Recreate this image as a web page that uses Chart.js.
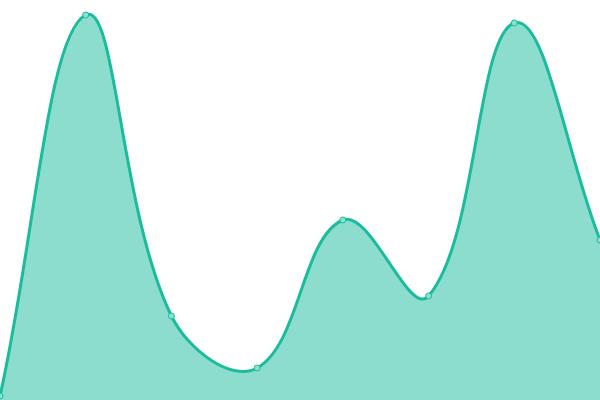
<!DOCTYPE html>
<html>
<head>
<meta charset="utf-8">
<script src="https://cdn.jsdelivr.net/npm/chart.js@4/dist/chart.umd.min.js"></script>
<style>
    html, body { margin: 0; padding: 0; background: #fff; }
    #wrap { width: 600px; height: 400px; }
</style>
</head>
<body>
<div id="wrap"><canvas id="myChart"></canvas></div>
<script>
const labels = ['1', '2', '3', '4', '5', '6', '7', '8'];
const values = [4, 385, 84, 32, 180, 104, 377, 160];

const lineColor = 'rgb(26, 188, 156)';
const fillColor = 'rgba(26, 188, 156, 0.5)';

var config = {
    type: 'line',
    data: {
        labels: labels,
        datasets: [{
            data: values,
            borderColor: lineColor,
            backgroundColor: fillColor,
            borderWidth: 3,
            fill: true,
            tension: 0.4,
            pointRadius: 3,
            pointBorderWidth: 1,
            pointBackgroundColor: 'rgba(140, 224, 206, 1)',
            pointBorderColor: lineColor
        }]
    },
    options: {
        responsive: true,
        maintainAspectRatio: false,
        animation: false,
        layout: { padding: 0, autoPadding: false },
        plugins: { legend: { display: false }, tooltip: { enabled: false } },
        scales: {
            x: { display: false },
            y: { display: false, min: 0, max: 400 }
        }
    }
};

var myChart = new Chart(document.getElementById('myChart'), config);
</script>
</body>
</html>
